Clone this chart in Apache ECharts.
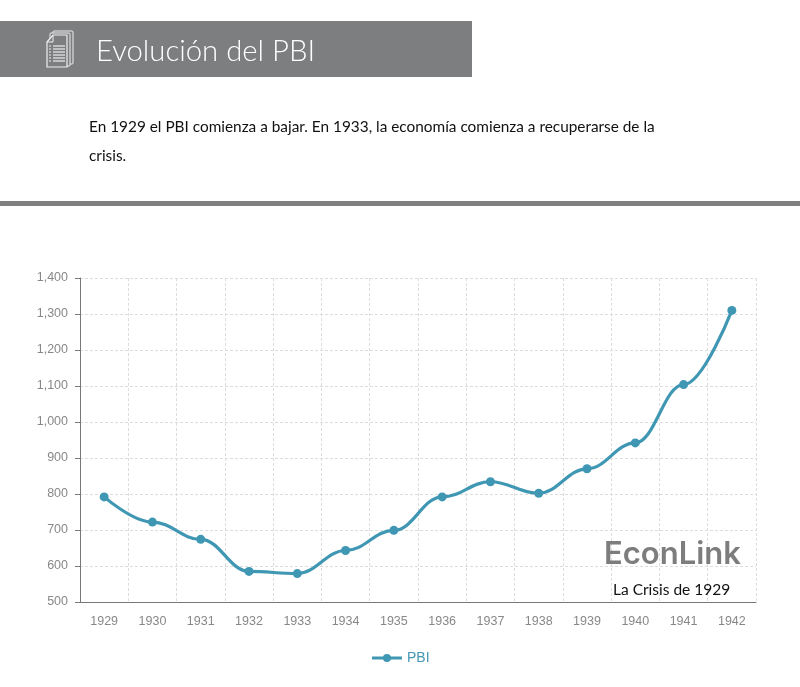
<!DOCTYPE html>
<html>
<head>
<meta charset="utf-8">
<title>Evolución del PBI</title>
<script src="https://cdn.jsdelivr.net/npm/echarts@6/dist/echarts.min.js"></script>
<style>
html,body{margin:0;padding:0;background:#fff}
#main{width:800px;height:687px}
</style>
</head>
<body>
<div id="main"></div>
<script>
var years = ['1929','1930','1931','1932','1933','1934','1935','1936','1937','1938','1939','1940','1941','1942'];
var pbi = [792,722,674,585,579,643,699,792,834,802,870,942,1104,1310];

var pageTitle = 'Evolución del PBI';
var intro = 'En 1929 el PBI comienza a bajar. En 1933, la economía comienza a recuperarse de la\ncrisis.';

var myChart = echarts.init(document.getElementById('main'));

// icono del titulo
var icon = [
    {type:'rect', z:11, shape:{x:53,y:31,width:20,height:33,r:1}, style:{fill:'none',stroke:'#eee',lineWidth:1}},
    {type:'rect', z:12, shape:{x:50,y:33,width:20,height:33,r:1}, style:{fill:'#7d7e80',stroke:'#eee',lineWidth:1}},
    {type:'polygon', z:13, shape:{points:[[47,42],[53,35],[67,35],[67,67],[47,67]]}, style:{fill:'#7d7e80',stroke:'#eee',lineWidth:1.2}},
    {type:'polyline', z:14, shape:{points:[[47,42],[53,42],[53,35]]}, style:{fill:'none',stroke:'#eee',lineWidth:1}}
];
[46,49,52,55,58,61].forEach(function (y) {
    icon.push({type:'line', z:14, shape:{x1:53,y1:y,x2:65,y2:y}, style:{stroke:'#eee',lineWidth:1.2}});
    icon.push({type:'line', z:14, shape:{x1:49,y1:y,x2:51,y2:y}, style:{stroke:'#eee',lineWidth:1}});
});

var option = {
    animation: false,
    grid: {left: 80, right: 44, top: 278, bottom: 85},
    legend: {
        data: ['PBI'],
        bottom: 17,
        left: 'center',
        itemWidth: 30,
        itemHeight: 10,
        itemGap: 3,
        lineStyle: {width: 3},
        textStyle: {color: '#4396b4', fontSize: 14, fontFamily: 'Liberation Sans'}
    },
    xAxis: {
        type: 'category',
        data: years,
        boundaryGap: true,
        axisLine: {lineStyle: {color: '#777', width: 1}},
        axisTick: {alignWithLabel: true, length: 5, lineStyle: {color: '#777'}},
        axisLabel: {color: '#888', fontSize: 12.5, margin: 13, fontFamily: 'Liberation Sans', interval: 0},
        splitLine: {show: true, interval: 0, lineStyle: {color: '#ddd', type: [3,2], width: 1}}
    },
    yAxis: {
        type: 'value',
        min: 500,
        max: 1400,
        interval: 100,
        axisLine: {show: true, lineStyle: {color: '#777', width: 1}},
        axisTick: {show: true, length: 5, lineStyle: {color: '#777'}},
        axisLabel: {
            color: '#888',
            fontSize: 12.5,
            margin: 12,
            padding: [5, 0, 0, 0],
            fontFamily: 'Liberation Sans',
            formatter: function (v) { return v.toLocaleString('en-US'); }
        },
        splitLine: {show: true, lineStyle: {color: '#ddd', type: [3,2], width: 1}}
    },
    series: [{
        name: 'PBI',
        type: 'line',
        data: pbi,
        smooth: 0.4,
        smoothMonotone: 'x',
        symbol: 'circle',
        symbolSize: 9,
        itemStyle: {color: '#3f97b3'},
        lineStyle: {color: '#3f97b3', width: 3.2}
    }],
    graphic: [
        {type:'rect', z:10, shape:{x:0,y:21,width:472,height:56}, style:{fill:'#7d7e80'}}
    ].concat(icon, [
        {type:'text', z:11, x:96, y:37, style:{text:pageTitle, fill:'#fff', font:'300 29.3px Lato'}},
        {type:'text', z:11, x:89, y:113, style:{text:intro, fill:'#111', font:'400 15.36px Lato', lineHeight:29}},
        {type:'rect', z:10, shape:{x:0,y:201,width:800,height:5}, style:{fill:'#808080'}},
        {type:'text', z:11, x:604, y:539, style:{text:'EconLink', fill:'#7d7d7d', font:'600 31px Inter'}},
        {type:'text', z:11, x:613, y:582, style:{text:'La Crisis de 1929', fill:'#111', font:'400 15.5px Lato'}}
    ])
};
myChart.setOption(option);
</script>
</body>
</html>
